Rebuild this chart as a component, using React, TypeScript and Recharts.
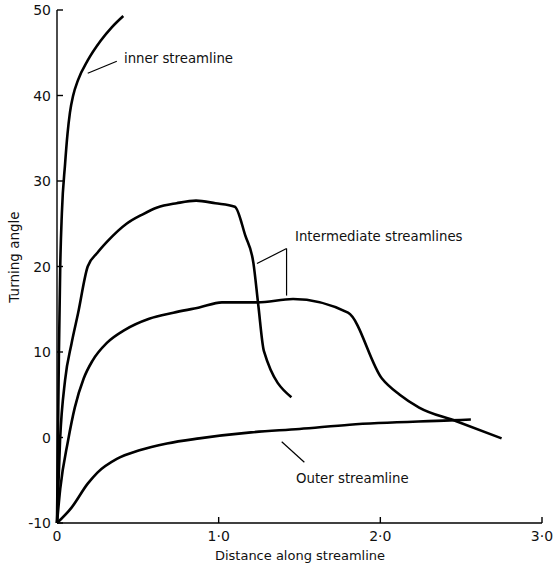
import { LineChart, Line, XAxis, YAxis, ReferenceLine, Customized } from "recharts";

// Turning angle vs distance along streamline
const innerStreamline = [
  { x: 0, y: -10 },
  { x: 0.006, y: 0 },
  { x: 0.012, y: 10 },
  { x: 0.02, y: 20 },
  { x: 0.03, y: 26.2 },
  { x: 0.05, y: 32 },
  { x: 0.065, y: 35.5 },
  { x: 0.08, y: 38 },
  { x: 0.1, y: 40 },
  { x: 0.13, y: 41.8 },
  { x: 0.19, y: 44.1 },
  { x: 0.27, y: 46.4 },
  { x: 0.34, y: 48 },
  { x: 0.41, y: 49.3 },
];

const upperIntermediate = [
  { x: 0, y: -10 },
  { x: 0.019, y: -0.3 },
  { x: 0.05, y: 6.7 },
  { x: 0.09, y: 11 },
  { x: 0.13, y: 14.5 },
  { x: 0.19, y: 20 },
  { x: 0.25, y: 21.6 },
  { x: 0.31, y: 22.9 },
  { x: 0.43, y: 25 },
  { x: 0.53, y: 26.1 },
  { x: 0.62, y: 26.9 },
  { x: 0.74, y: 27.4 },
  { x: 0.86, y: 27.7 },
  { x: 0.98, y: 27.4 },
  { x: 1.1, y: 27.0 },
  { x: 1.165, y: 23.6 },
  { x: 1.215, y: 20.4 },
  { x: 1.245, y: 15.5 },
  { x: 1.28, y: 10.1 },
  { x: 1.45, y: 4.7 },
];

const lowerIntermediate = [
  { x: 0, y: -10 },
  { x: 0.02, y: -6 },
  { x: 0.068, y: -0.4 },
  { x: 0.11, y: 3.5 },
  { x: 0.165, y: 6.9 },
  { x: 0.22, y: 9 },
  { x: 0.31, y: 11.1 },
  { x: 0.42, y: 12.6 },
  { x: 0.57, y: 13.9 },
  { x: 0.72, y: 14.6 },
  { x: 0.88, y: 15.2 },
  { x: 1.02, y: 15.8 },
  { x: 1.24, y: 15.8 },
  { x: 1.46, y: 16.2 },
  { x: 1.8, y: 14.6 },
  { x: 2.01, y: 6.9 },
  { x: 2.12, y: 5 },
  { x: 2.24, y: 3.5 },
  { x: 2.47, y: 1.9 },
  { x: 2.75, y: -0.1 },
];

const outerStreamline = [
  { x: 0, y: -10 },
  { x: 0.09, y: -8.2 },
  { x: 0.19, y: -5.4 },
  { x: 0.25, y: -4.1 },
  { x: 0.37, y: -2.5 },
  { x: 0.51, y: -1.5 },
  { x: 0.68, y: -0.7 },
  { x: 0.88, y: -0.1 },
  { x: 1.2, y: 0.6 },
  { x: 1.5, y: 1.0 },
  { x: 1.81, y: 1.5 },
  { x: 2.43, y: 2.0 },
  { x: 2.56, y: 2.1 },
];

const xTicks = [0, 1, 2, 3];
const xTickLabels = ["0", "1·0", "2·0", "3·0"];
const yTicks = [-10, 0, 10, 20, 30, 40, 50];

const innerLeader = [
  { x: 0.19, y: 42.6 },
  { x: 0.37, y: 44.0 },
];
const intermediateLeader1 = [
  { x: 1.237, y: 20.35 },
  { x: 1.42, y: 22.1 },
];
const intermediateLeader2 = [
  { x: 1.42, y: 22.1 },
  { x: 1.42, y: 16.6 },
];
const outerLeader = [
  { x: 1.39, y: -0.5 },
  { x: 1.53, y: -2.9 },
];

const FONT = "DejaVu Sans";

function YTick({ x, y, payload }: any) {
  return (
    <g>
      <line x1={x} y1={y} x2={x + 6} y2={y} stroke="#000" strokeWidth={1.4} />
      <text x={x - 6} y={y} dy="0.36em" textAnchor="end" fontSize={14} fontFamily={FONT} fill="#111">
        {payload.value}
      </text>
    </g>
  );
}

function XTick({ x, y, payload }: any) {
  const label = xTickLabels[xTicks.indexOf(payload.value)];
  return (
    <g>
      <line x1={x} y1={y} x2={x} y2={y - 6} stroke="#000" strokeWidth={1.4} />
      <text x={x} y={y + 18} textAnchor="middle" fontSize={14} fontFamily={FONT} fill="#111">
        {label}
      </text>
    </g>
  );
}

function Labels() {
  return (
    <g fontFamily={FONT} fill="#111" fontSize={13.3}>
      <text x={124} y={63}>inner  streamline</text>
      <text x={295} y={241}>Intermediate  streamlines</text>
      <text x={296} y={483}>Outer  streamline</text>
      <text x={300} y={560} textAnchor="middle" fontSize={13}>Distance along streamline</text>
      <text x={14} y={257} textAnchor="middle" dy="0.36em" fontSize={13.5} transform="rotate(-90, 14, 257)">
        Turning angle
      </text>
    </g>
  );
}

const seriesStyle = { stroke: "#000", strokeWidth: 2.6, dot: false as const, isAnimationActive: false };

export default function App() {
  return (
    <div style={{ position: "absolute", left: 0, top: 0, background: "#fff" }}>
      <LineChart width={553} height={571} margin={{ top: 10, right: 11, left: 0, bottom: 0 }}>
        <XAxis
          type="number"
          dataKey="x"
          domain={[0, 3]}
          ticks={xTicks}
          tick={<XTick />}
          tickSize={0}
          tickMargin={0}
          tickLine={false}
          height={48}
          axisLine={{ stroke: "#000", strokeWidth: 1.4 }}
          allowDuplicatedCategory={false}
        />
        <YAxis
          type="number"
          dataKey="y"
          domain={[-10, 50]}
          ticks={yTicks}
          tick={<YTick />}
          tickSize={0}
          tickMargin={0}
          tickLine={false}
          width={57}
          axisLine={{ stroke: "#000", strokeWidth: 1.4 }}
        />
        <Line data={innerStreamline} dataKey="y" type="monotone" {...seriesStyle} />
        <Line data={upperIntermediate} dataKey="y" type="monotone" {...seriesStyle} strokeLinejoin="round" />
        <Line data={lowerIntermediate} dataKey="y" type="monotone" {...seriesStyle} strokeLinejoin="round" />
        <Line data={outerStreamline} dataKey="y" type="monotone" {...seriesStyle} />
        <ReferenceLine segment={innerLeader} stroke="#000" strokeWidth={1.2} />
        <ReferenceLine segment={intermediateLeader1} stroke="#000" strokeWidth={1.2} />
        <ReferenceLine segment={intermediateLeader2} stroke="#000" strokeWidth={1.2} />
        <ReferenceLine segment={outerLeader} stroke="#000" strokeWidth={1.2} />
        <Customized component={<Labels />} />
      </LineChart>
    </div>
  );
}
